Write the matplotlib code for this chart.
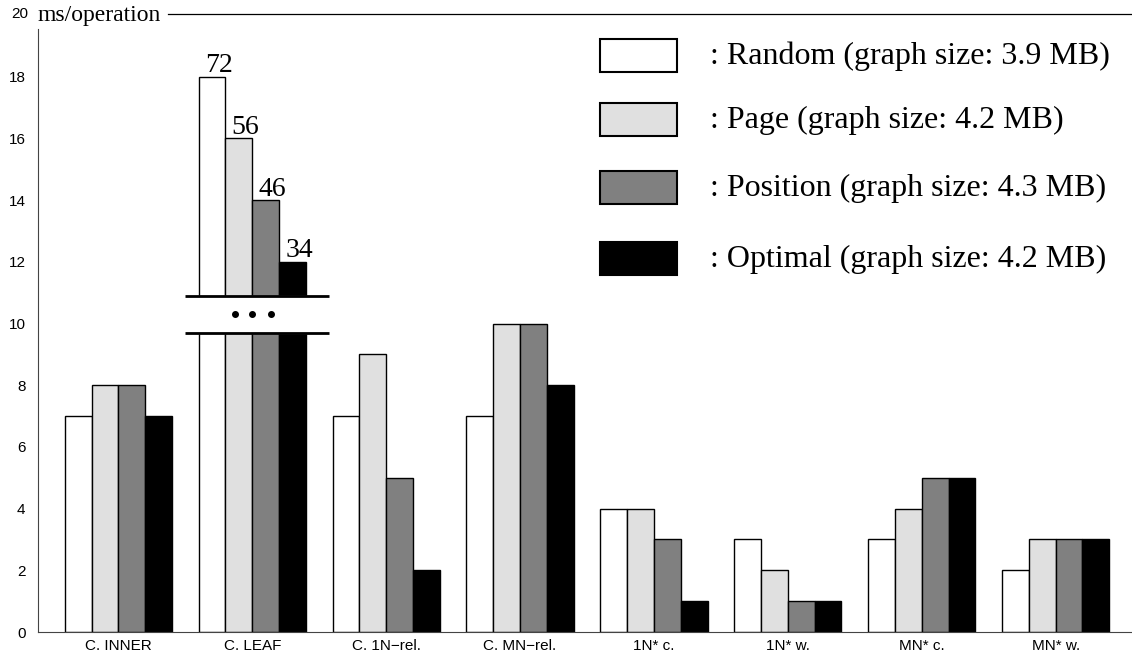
import numpy as np
import matplotlib
matplotlib.use('Agg')
from matplotlib import pyplot as plt
from matplotlib.patches import Rectangle

categories = ['C. INNER', 'C. LEAF', 'C. 1N\u2212rel.', 'C. MN\u2212rel.',
              '1N* c.', '1N* w.', 'MN* c.', 'MN* w.']
series = ['Random', 'Page', 'Position', 'Optimal']
sizes = ['3.9', '4.2', '4.3', '4.2']
colors = ['white', '#e0e0e0', '#808080', 'black']

# drawn heights (C. LEAF is clipped, real values written on top)
random_ms = [7, 18, 7, 7, 4, 3, 3, 2]
page_ms = [8, 16, 9, 10, 4, 2, 4, 3]
position_ms = [8, 14, 5, 10, 3, 1, 5, 3]
optimal_ms = [7, 12, 2, 8, 1, 1, 5, 3]
leaf_real = [72, 56, 46, 34]

values = [random_ms, page_ms, position_ms, optimal_ms]

serif = 'Liberation Serif'
sans = 'Liberation Sans'

fig = plt.figure(figsize=(11.32, 6.61), dpi=100)
ax = fig.add_axes([38/1132, 29/661, 1 - 38/1132, (632-29)/661])

x = np.arange(len(categories))
w = 0.2
for i, vals in enumerate(values):
    ax.bar(x - 0.3 + i*w, vals, w, color=colors[i], edgecolor='black',
           linewidth=1.0, zorder=2)
    # labels for the clipped group
    ax.text(1 - 0.3 + i*w + 0.05, vals[1] - 0.05, str(leaf_real[i]),
            ha='center', va='bottom', fontsize=20, family=serif, zorder=4)

# axis break on C. LEAF
ax.fill_between([0.5, 1.57], 9.7, 10.9, color='white', zorder=3)
ax.plot([0.5, 1.57], [10.9, 10.9], color='black', lw=2, zorder=4, solid_capstyle='butt')
ax.plot([0.5, 1.57], [9.7, 9.7], color='black', lw=2, zorder=4, solid_capstyle='butt')
ax.plot([0.87, 1.0, 1.14], [10.3, 10.3, 10.3], 'o', color='black', ms=4, zorder=5)

ax.set_xlim(-0.6, 7.57)
ax.set_ylim(0, 19.55)
ax.set_xticks(x)
ax.set_xticklabels(categories, family=sans, fontsize=11)
ax.set_yticks(range(0, 19, 2))
ax.set_yticklabels([str(v) for v in range(0, 19, 2)], family=sans, fontsize=11)
ax.tick_params(length=0, pad=9)
ax.tick_params(axis='x', pad=5)
ax.spines['top'].set_visible(False)
ax.spines['right'].set_visible(False)
ax.spines['left'].set_color('#444444')
ax.spines['bottom'].set_color('#444444')

# top label row
fig.text(20/1132, 1 - 14/661, '20', family=sans, fontsize=11, ha='center', va='center')
fig.text(38/1132, 1 - 15/661, 'ms/operation', family=serif, fontsize=17, ha='left', va='center')
fig.add_artist(plt.Line2D([168/1132, 1], [1 - 14/661, 1 - 14/661], color='black', lw=0.9))

# legend
box_y = [39, 103, 171, 242]
for i, s in enumerate(series):
    y0 = box_y[i]
    fig.add_artist(Rectangle((600/1132, 1 - (y0 + 33)/661), 77/1132, 33/661,
                             facecolor=colors[i], edgecolor='black', lw=1.5))
    fig.text(710/1132, 1 - (y0 + 17)/661, ': %s (graph size: %s MB)' % (s, sizes[i]),
             family=serif, fontsize=23, ha='left', va='center')

plt.savefig('out.png', dpi=100)
